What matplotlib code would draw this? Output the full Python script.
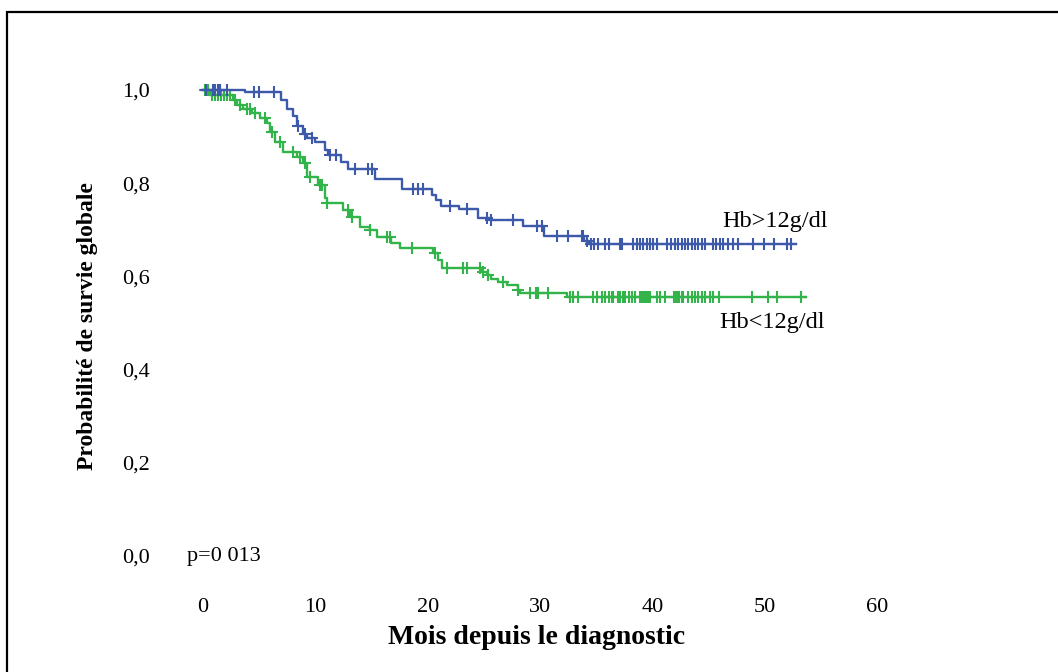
import numpy as np
import matplotlib.pyplot as plt
from matplotlib.patches import Rectangle

# Hb>12g/dl : instants des pas (mois) et survie après chaque pas
t_haut = [0, 3.7, 6.9, 7.5, 8.0, 8.4, 8.9, 9.3, 10.0, 10.9, 11.1, 12.3, 12.9,
          15.3, 17.7, 20.4, 20.7, 21.2, 22.8, 24.5, 25.6, 28.5, 30.4, 33.9, 34.4]
s_haut = [1.0, 0.995, 0.978, 0.96, 0.945, 0.923, 0.905, 0.898, 0.888, 0.872, 0.86,
          0.845, 0.83, 0.81, 0.787, 0.774, 0.765, 0.752, 0.744, 0.726, 0.72, 0.708,
          0.687, 0.676, 0.669]
fin_haut = 52.8
cens_haut = [0.3, 0.9, 1.1, 1.3, 1.5, 2.1, 4.5, 5.0, 6.3, 8.5, 9.1, 9.7, 11.3, 11.8,
             13.5, 14.7, 15.0, 18.7, 19.1, 19.6, 22.0, 23.5, 25.3, 25.6, 27.6, 29.7,
             30.2, 31.5, 32.5, 33.7, 33.8, 34.2,
             34.5, 34.8, 35.2, 35.8, 36.1, 37.1, 37.3, 38.3, 38.6, 38.9, 39.2, 39.5,
             39.8, 40.1, 40.4, 41.3, 41.7, 42.0, 42.3, 42.6, 42.9, 43.2, 43.5, 43.8,
             44.1, 44.4, 44.7, 45.4, 45.7, 46.0, 46.3, 46.7, 47.2, 47.6, 49.0, 49.9,
             50.8, 52.0, 52.3]

# Hb<12g/dl
t_bas = [0, 0.6, 2.7, 3.0, 3.6, 4.4, 5.1, 5.7, 6.0, 6.4, 7.1, 8.4, 8.9, 9.3, 10.2,
         10.9, 11.0, 12.5, 13.1, 14.0, 14.9, 15.5, 16.7, 17.5, 20.5, 20.9, 21.3,
         24.8, 25.3, 25.6, 26.3, 27.1, 28.0, 28.2, 32.4]
s_bas = [1.0, 0.989, 0.979, 0.968, 0.96, 0.95, 0.94, 0.93, 0.91, 0.889, 0.867,
         0.857, 0.843, 0.814, 0.797, 0.768, 0.758, 0.743, 0.728, 0.706, 0.70, 0.685,
         0.672, 0.661, 0.65, 0.636, 0.618, 0.61, 0.603, 0.595, 0.589, 0.582, 0.571,
         0.565, 0.556]
fin_bas = 53.7
cens_bas = [0.2, 0.45, 0.8, 1.05, 1.35, 1.6, 1.85, 2.15, 2.4, 2.85, 3.3, 3.9, 4.2,
            4.6, 5.5, 6.15, 6.85, 8.0, 8.6, 9.1, 9.5, 10.4, 10.6, 11.05, 12.9, 13.3,
            14.9, 16.4, 16.65, 18.6, 20.65, 21.7, 23.15, 23.5, 24.7, 24.95, 25.4,
            26.7, 28.0, 29.1, 29.6, 29.8, 30.7, 32.7, 32.95, 33.4,
            34.7, 35.1, 35.5, 35.8, 36.1, 36.4, 36.5, 36.9, 37.1, 37.4, 37.6, 37.9,
            38.2, 38.5, 38.9, 39.1, 39.3, 39.4, 39.6, 39.8, 40.4, 40.7, 41.1, 41.9,
            42.0, 42.2, 42.4, 42.6, 42.7, 43.2, 43.5, 43.8, 44.1, 44.4, 44.7, 45.1,
            45.4, 45.9, 48.9, 50.3, 51.1, 53.2]

x_ticks = [0, 10, 20, 30, 40, 50, 60]
y_ticks = [0.0, 0.2, 0.4, 0.6, 0.8, 1.0]
y_labels = ["0,0", "0,2", "0,4", "0,6", "0,8", "1,0"]

bleu = "#3d59a9"
vert = "#33b44a"
police = "Liberation Serif"

fig = plt.figure(figsize=(10.58, 6.72), dpi=100)
ax = fig.add_axes([203 / 1058, 1 - 556 / 672, 674 / 1058, 466 / 672])


def courbe(t, s, fin, cens, couleur):
    t = np.array(t)
    s = np.array(s)
    ax.step(np.append(t, fin), np.append(s, s[-1]), where="post",
            color=couleur, lw=1.7, clip_on=False)
    idx = np.searchsorted(t, cens, side="right") - 1
    ax.plot(cens, s[idx], ls="none", marker="+", ms=8.5, mew=1.5,
            color=couleur, clip_on=False)


courbe(t_bas, s_bas, fin_bas, cens_bas, vert)
courbe(t_haut, s_haut, fin_haut, cens_haut, bleu)

ax.set_xlim(0, 60)
ax.set_ylim(0, 1)
ax.set_xticks(x_ticks)
ax.set_xticklabels([str(v) for v in x_ticks], fontfamily=police, fontsize=16)
ax.set_yticks(y_ticks)
ax.set_yticklabels(y_labels, fontfamily=police, fontsize=16)
ax.tick_params(axis="x", length=0, pad=30)
ax.tick_params(axis="y", length=0, pad=38)
for sp in ax.spines.values():
    sp.set_visible(False)

ax.text(-1.45, 0.0, "p=0 013", fontfamily=police, fontsize=16, va="center", ha="left")
ax.text(46.2, 0.717, "Hb>12g/dl", fontfamily=police, fontsize=17.5, va="center", ha="left")
ax.text(46.0, 0.502, "Hb<12g/dl", fontfamily=police, fontsize=17.5, va="center", ha="left")

fig.text(88 / 1058, 1 - 326 / 672, "Probabilité de survie globale", rotation=90,
         fontfamily=police, fontweight="bold", fontsize=17, ha="center", va="center")
fig.text(537 / 1058, 1 - 638 / 672, "Mois depuis le diagnostic",
         fontfamily=police, fontweight="bold", fontsize=20, ha="center", va="center")

# cadre autour de la figure
fig.patches.append(Rectangle((7 / 1058, -0.5), 2, 0.5 + 1 - 11.5 / 672,
                             transform=fig.transFigure, fill=False,
                             edgecolor="black", lw=1.6))

fig.savefig("out.png", dpi=100)
